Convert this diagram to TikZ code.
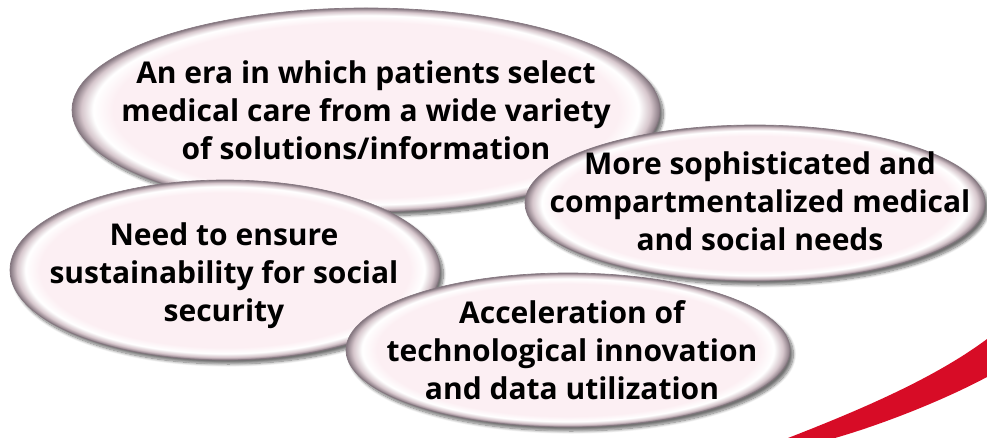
\documentclass[tikz,border=0pt]{standalone}
\usepackage{fontspec}
\setmainfont{Open Sans}
\usetikzlibrary{shapes.geometric,shadows.blur}

\definecolor{bubblepink}{HTML}{FCEFF3}
\definecolor{bubblerim}{HTML}{D6C6CC}
\definecolor{bubbledark}{HTML}{857780}
\definecolor{swooshred}{HTML}{D70C26}

\pgfdeclareradialshading{bubbleshade}{\pgfpoint{0bp}{0bp}}{color(0bp)=(bubblepink); color(21.5bp)=(bubblepink); color(23.2bp)=(white); color(24.2bp)=(bubblerim); color(25bp)=(bubbledark); color(50bp)=(bubbledark)}

\tikzset{every picture/.style={line width=0.75pt}}
\tikzset{
  bubble/.style={ellipse, inner sep=0pt, shading=bubbleshade, draw=bubbledark, line width=0.5pt,
    blur shadow={shadow xshift=2.5pt, shadow yshift=-3pt, shadow opacity=55, shadow blur steps=10}},
  bubbletext/.style={align=center, inner sep=0pt, font=\bfseries\fontsize{22.5}{28.5}\selectfont}
}

\begin{document}
\begin{tikzpicture}[x=0.75pt,y=0.75pt,yscale=-1,xscale=1]
        \useasboundingbox (0,0) rectangle (987,438);
        % red swoosh, bottom right
        \fill [swooshred] (788,438) .. controls (860,410) and (935,378) .. (987,339) -- (987,377) .. controls (940,402) and (880,425) .. (835,438) -- cycle ;
        % bubbles, back to front
        \node [bubble, minimum width=441pt, minimum height=153pt] (era) at (366,110) {};
        \node [bubbletext] at (era) {An era in which patients select\\medical care from a wide variety\\of solutions/information};
        \node [bubble, minimum width=345pt, minimum height=117pt] (needs) at (755,203) {};
        \node [bubbletext] at (760,201) {More sophisticated and\\compartmentalized medical\\and social needs};
        \node [bubble, minimum width=322.5pt, minimum height=135pt] (sustain) at (225,270) {};
        \node [bubbletext] at (224,276) {Need to ensure\\sustainability for social\\security};
        \node [bubble, minimum width=333pt, minimum height=115.5pt] (tech) at (568,350) {};
        \node [bubbletext] at (572,350) {Acceleration of\\technological innovation\\and data utilization};
\end{tikzpicture}
\end{document}
